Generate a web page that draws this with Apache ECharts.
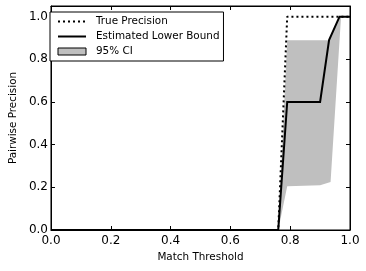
<!DOCTYPE html>
<html>
<head>
<meta charset="utf-8">
<script src="https://cdn.jsdelivr.net/npm/echarts@6/dist/echarts.min.js"></script>
<style>
html,body{margin:0;padding:0;background:#fff;}
#c{width:366px;height:271px;}
</style>
</head>
<body>
<div id="c"></div>
<script>
// Data
var xTicks = [0, 0.2, 0.4, 0.6, 0.8, 1.0];
var yTicks = [0, 0.2, 0.4, 0.6, 0.8, 1.0];

var trueX = [0, 0.76, 0.79, 1.0];
var trueY = [0, 0, 1.0, 1.0];

var estX = [0, 0.76, 0.79, 0.90, 0.93, 0.965, 1.0];
var estY = [0, 0, 0.6, 0.6, 0.89, 1.0, 1.0];

var ciUpperX = [0.76, 0.79, 0.93, 0.965, 1.0];
var ciUpperY = [0, 0.89, 0.89, 1.0, 1.0];
var ciLowerX = [0.76, 0.79, 0.90, 0.935, 0.97, 1.0];
var ciLowerY = [0, 0.205, 0.21, 0.225, 1.0, 1.0];

var names = ['True Precision', 'Estimated Lower Bound', '95% CI'];

function pairs(xs, ys) { return xs.map(function (x, i) { return [x, ys[i]]; }); }

var chart = echarts.init(document.getElementById('c'), null, {renderer: 'canvas'});
var FONT = 'DejaVu Sans';
var axisCommon = {
  type: 'value',
  splitLine: {show: false},
  axisLine: {show: true, onZero: false, lineStyle: {color: '#000', width: 1}},
  axisTick: {show: true, inside: true, length: 4, lineStyle: {color: '#000', width: 1}}
};

chart.setOption({
  animation: false,
  backgroundColor: '#fff',
  textStyle: {fontFamily: FONT},
  grid: {left: 46, top: 6, right: 16, bottom: 41, show: true, borderColor: '#000', borderWidth: 1, backgroundColor: 'transparent'},
  legend: {
    left: 50, top: 12, orient: 'vertical',
    padding: [2, 4, 2, 7],
    itemGap: 0, itemWidth: 28, itemHeight: 7,
    borderColor: '#000', borderWidth: 1, backgroundColor: '#fff',
    textStyle: {fontFamily: FONT, fontSize: 10.4, color: '#000', lineHeight: 15, padding: [0, 0, 0, 5]},
    data: [
      {name: names[0], itemStyle: {opacity: 0}, lineStyle: {type: [2, 3], width: 2, color: '#000', cap: 'butt'}},
      {name: names[1], itemStyle: {opacity: 0}, lineStyle: {width: 2, color: '#000'}},
      {name: names[2], icon: 'rect', itemStyle: {color: '#bfbfbf', borderColor: '#000', borderWidth: 1}}
    ]
  },
  xAxis: [
    Object.assign({}, axisCommon, {
      position: 'bottom', min: 0, max: 1, interval: 0.2,
      name: 'Match Threshold', nameLocation: 'middle', nameGap: 21,
      nameTextStyle: {fontFamily: FONT, fontSize: 10.4, color: '#000'},
      axisLabel: {fontFamily: FONT, fontSize: 12, color: '#000', margin: 5,
        formatter: function (v) { return v.toFixed(1); }}
    }),
    Object.assign({}, axisCommon, {
      position: 'top', min: 0, max: 1, interval: 0.2,
      axisLabel: {show: false}
    })
  ],
  yAxis: [
    Object.assign({}, axisCommon, {
      position: 'left', min: 0, max: 1.05, interval: 0.2,
      name: 'Pairwise Precision', nameLocation: 'middle', nameGap: 28,
      nameTextStyle: {fontFamily: FONT, fontSize: 10.4, color: '#000'},
      axisLabel: {fontFamily: FONT, fontSize: 12, color: '#000', margin: 3, showMaxLabel: false,
        formatter: function (v) { return yTicks.indexOf(Math.round(v * 100) / 100) >= 0 ? v.toFixed(1) : ''; }}
    }),
    Object.assign({}, axisCommon, {
      position: 'right', min: 0, max: 1.05, interval: 0.2,
      axisLabel: {show: false}
    })
  ],
  series: [
    {
      name: names[2], type: 'custom', xAxisIndex: 0, yAxisIndex: 0, z: 1,
      data: [[ciUpperX[0], ciUpperY[0]]],
      itemStyle: {color: '#bfbfbf'},
      renderItem: function (params, api) {
        var pts = [];
        for (var i = 0; i < ciUpperX.length; i++) pts.push(api.coord([ciUpperX[i], ciUpperY[i]]));
        for (var j = ciLowerX.length - 1; j >= 0; j--) pts.push(api.coord([ciLowerX[j], ciLowerY[j]]));
        return {type: 'polygon', shape: {points: pts}, style: {fill: '#bfbfbf', stroke: null}};
      }
    },
    {
      name: names[1], type: 'line', z: 3, symbol: 'none', silent: true,
      data: pairs(estX, estY),
      lineStyle: {color: '#000', width: 2, join: 'miter'},
      itemStyle: {color: '#000'}
    },
    {
      name: names[0], type: 'line', z: 4, symbol: 'none', silent: true,
      data: pairs(trueX, trueY),
      lineStyle: {color: '#000', width: 2, type: [2, 3], cap: 'butt'},
      itemStyle: {color: '#000'}
    }
  ]
});
</script>
</body>
</html>
